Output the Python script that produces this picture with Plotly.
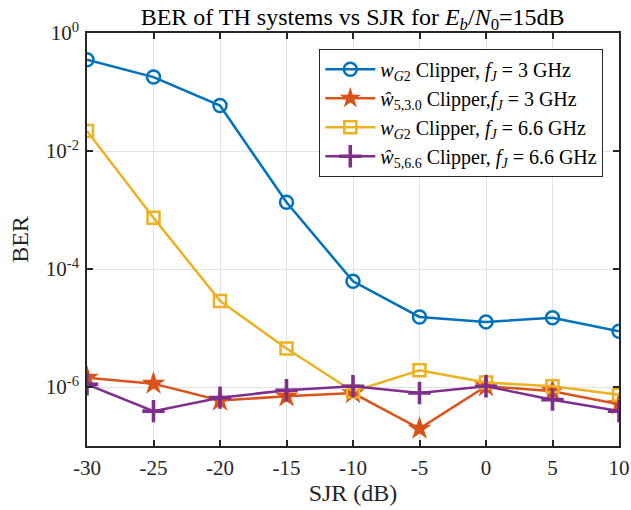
import plotly.graph_objects as go

sjr = [-30, -25, -20, -15, -10, -5, 0, 5, 10]
ber_wg2_3 = [0.352, 0.179, 0.059, 1.35e-3, 6.2e-5, 1.54e-5, 1.27e-5, 1.49e-5, 8.8e-6]
ber_hat_3 = [1.44e-6, 1.14e-6, 5.9e-7, 6.95e-7, 7.9e-7, 1.97e-7, 1.03e-6, 8.5e-7, 5.1e-7]
ber_wg2_66 = [0.0219, 7.4e-4, 2.88e-5, 4.5e-6, 8.4e-7, 1.92e-6, 1.19e-6, 1.03e-6, 7.4e-7]
ber_hat_66 = [1.11e-6, 3.9e-7, 6.6e-7, 8.8e-7, 1.03e-6, 7.9e-7, 1.03e-6, 6.1e-7, 3.9e-7]

x_tickvals = [-30, -25, -20, -15, -10, -5, 0, 5, 10]
x_ticktext = ["-30", "-25", "-20", "-15", "-10", "-5", "0", "5", "10"]
y_tickvals = [1e-6, 1e-4, 1e-2, 1]
y_ticktext = ["10<sup>-6</sup>", "10<sup>-4</sup>", "10<sup>-2</sup>", "10<sup>0</sup>"]

names = [
    "<i>w</i><sub><i>G</i>2</sub> Clipper, <i>f</i><sub><i>J</i></sub> = 3 GHz",
    "<i>ŵ</i><sub>5,3.0</sub> Clipper,<i>f</i><sub><i>J</i></sub> = 3 GHz",
    "<i>w</i><sub><i>G</i>2</sub> Clipper, <i>f</i><sub><i>J</i></sub> = 6.6 GHz",
    "<i>ŵ</i><sub>5,6.6</sub> Clipper, <i>f</i><sub><i>J</i></sub> = 6.6 GHz",
]

FONT = "Liberation Serif"
TXT = "#262626"

fig = go.Figure()
series = [
    (ber_wg2_3, "#0072BD", dict(symbol="circle-open", size=13, line=dict(width=2.5, color="#0072BD"))),
    (ber_hat_3, "#D95319", dict(symbol="star", size=18, color="#D95319", line=dict(width=0))),
    (ber_wg2_66, "#EDB120", dict(symbol="square-open", size=12, line=dict(width=2.5, color="#EDB120"))),
    (ber_hat_66, "#7E2F8E", dict(symbol="cross-thin", size=16, line=dict(width=3.6, color="#7E2F8E"))),
]
for (vals, col, mk), nm in zip(series, names):
    fig.add_trace(go.Scatter(x=sjr, y=vals, mode="lines+markers", name=nm,
                             line=dict(color=col, width=2.5), marker=mk))

fig.update_layout(
    width=631, height=510,
    margin=dict(l=87, r=12, t=33, b=64),
    paper_bgcolor="white", plot_bgcolor="white",
    font=dict(family=FONT, size=21, color=TXT),
    title=dict(text="BER of TH systems vs SJR for <i>E</i><sub><i>b</i></sub>/<i>N</i><sub>0</sub>=15dB",
               x=0.5588, xanchor="center", y=0.968, yref="container", yanchor="middle",
               font=dict(family=FONT, size=24, color="#000000")),
    showlegend=True,
    legend=dict(x=0.9705, xanchor="right", y=0.962, yanchor="top",
                bgcolor="white", bordercolor="#262626", borderwidth=1,
                font=dict(family=FONT, size=20, color="#000000"),
                tracegroupgap=0, itemwidth=50),
)
fig.update_xaxes(range=[-30, 10], tickvals=x_tickvals, ticktext=x_ticktext,
                 showline=True, linecolor=TXT, linewidth=1.6, mirror="ticks",
                 ticks="inside", ticklen=6, tickcolor=TXT, tickwidth=1.6,
                 showgrid=True, gridcolor="#e3e3e3", gridwidth=1, zeroline=False,
                 ticklabelstandoff=2, automargin=False,
                 title=dict(text="SJR (dB)", standoff=0, font=dict(size=24)),
                 tickfont=dict(size=21))
fig.update_yaxes(type="log", range=[-7, 0], tickvals=y_tickvals, ticktext=y_ticktext,
                 showline=True, linecolor=TXT, linewidth=1.6, mirror="ticks",
                 ticks="inside", ticklen=6, tickcolor=TXT, tickwidth=1.6,
                 showgrid=True, gridcolor="#e3e3e3", gridwidth=1, zeroline=False,
                 ticklabelstandoff=2, automargin=False,
                 title=dict(text="BER", standoff=10, font=dict(size=24)),
                 tickfont=dict(size=21))

fig.write_html("out.html")
